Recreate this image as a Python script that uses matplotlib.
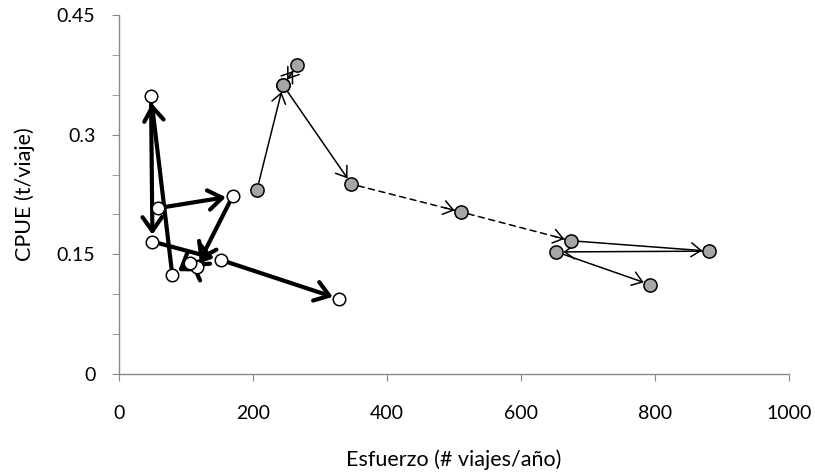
import matplotlib
matplotlib.use("Agg")
import matplotlib.pyplot as plt
from matplotlib.patches import FancyArrowPatch
from matplotlib.ticker import MultipleLocator, FixedLocator

# white fleet (thick arrows), chronological order
white_x = [58.7, 169.7, 116, 106, 79.6, 47.8, 50, 152, 329]
white_y = [0.208, 0.223, 0.134, 0.139, 0.124, 0.348, 0.166, 0.143, 0.094]

# grey fleet (thin arrows), chronological order
grey_x = [206, 245, 266, 245, 347, 511, 675, 881, 653, 793]
grey_y = [0.231, 0.362, 0.387, 0.362, 0.238, 0.203, 0.167, 0.154, 0.153, 0.112]
grey_dashed = [False, False, False, False, True, True, False, False, False]

x_ticks = [0, 200, 400, 600, 800, 1000]
y_ticks = [0, 0.15, 0.3, 0.45]

plt.rcParams['font.family'] = ['Lato', 'DejaVu Sans']


def draw_path(ax, xs, ys, lw, hl, hw, dashed=None):
    style = f'->,head_length={hl},head_width={hw}'
    for i in range(len(xs) - 1):
        a = (xs[i], ys[i])
        b = (xs[i + 1], ys[i + 1])
        if dashed is not None and dashed[i]:
            ax.add_patch(FancyArrowPatch(a, b, arrowstyle='-', linestyle=(0, (4, 3)),
                                         lw=lw, color='black', shrinkA=5, shrinkB=5,
                                         zorder=2))
            t = 0.85
            mid = (a[0] + t * (b[0] - a[0]), a[1] + t * (b[1] - a[1]))
            ax.add_patch(FancyArrowPatch(mid, b, arrowstyle=style,
                                         mutation_scale=1, lw=lw, color='black',
                                         shrinkA=0, shrinkB=5, zorder=2))
        else:
            ax.add_patch(FancyArrowPatch(a, b, arrowstyle=style,
                                         mutation_scale=1, lw=lw, color='black',
                                         shrinkA=5, shrinkB=5, zorder=2,
                                         capstyle='round'))


fig = plt.figure(figsize=(8.15, 4.76), dpi=100)
ax = fig.add_axes([0.146, 0.2143, 0.822, 0.7542])

draw_path(ax, grey_x, grey_y, 1.1, 7, 5, grey_dashed)
draw_path(ax, white_x, white_y, 3.0, 10, 7)

ax.plot(grey_x, grey_y, 'o', ms=9.5, mfc='#a6a6a6', mec='black', mew=1.1,
        ls='none', zorder=3)
ax.plot(white_x, white_y, 'o', ms=9, mfc='white', mec='black', mew=1.1,
        ls='none', zorder=3)

ax.set_xlim(0, 1000)
ax.set_ylim(0, 0.45)
ax.xaxis.set_major_locator(FixedLocator(x_ticks))
ax.yaxis.set_major_locator(FixedLocator(y_ticks))
ax.yaxis.set_minor_locator(MultipleLocator(0.05))
ax.set_yticklabels(['0', '0.15', '0.3', '0.45'])

for s in ['top', 'right']:
    ax.spines[s].set_visible(False)
for s in ['left', 'bottom']:
    ax.spines[s].set_color('#888888')
    ax.spines[s].set_linewidth(1.0)

ax.tick_params(axis='x', which='both', direction='out', length=5, color='#888888',
               labelsize=14, pad=17)
ax.tick_params(axis='y', which='both', direction='out', length=5, color='#888888',
               labelsize=14, pad=12)

ax.set_xlabel('Esfuerzo (# viajes/año)', fontsize=15.5, labelpad=20)
ax.set_ylabel('CPUE (t/viaje)', fontsize=15.5, labelpad=16)

fig.savefig('out.png', dpi=100)
